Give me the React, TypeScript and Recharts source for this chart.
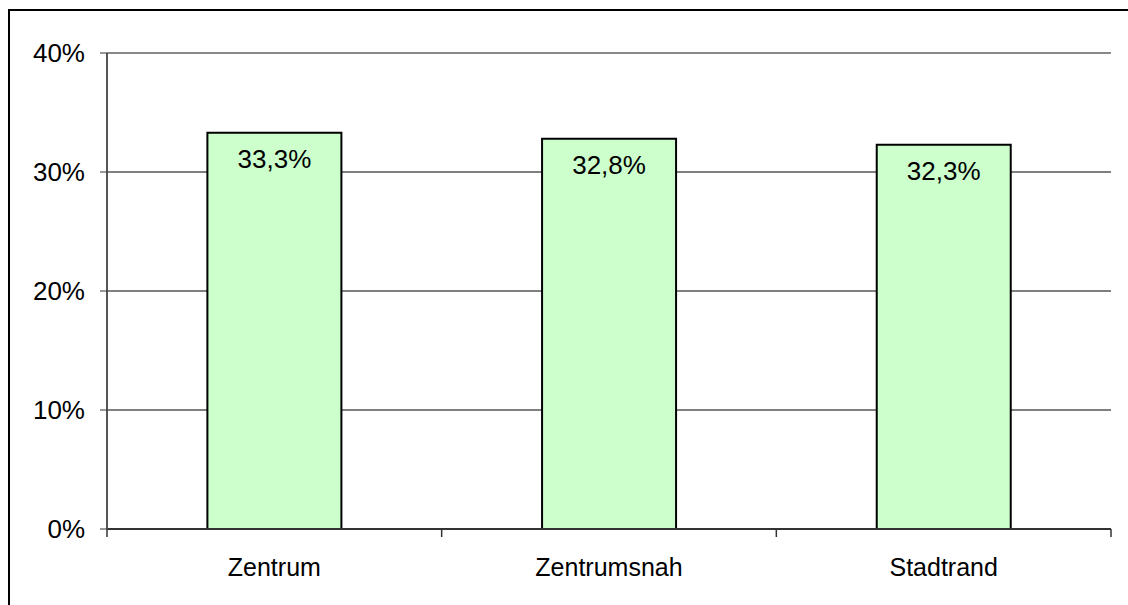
import React from 'react';
import { BarChart, Bar, XAxis, YAxis, CartesianGrid, ReferenceLine, LabelList } from 'recharts';

const categories = ['Zentrum', 'Zentrumsnah', 'Stadtrand'];
const shares = [33.3, 32.8, 32.3];
const yTicks = [0, 10, 20, 30, 40];

const data = categories.map((c, i) => ({ name: c, value: shares[i] }));

const W = 1128;
const H = 605;
const M = { top: 53, right: 17, bottom: 46, left: 47 };
const PLOT_W = W - M.left - 60 - M.right;
const FONT = 'Liberation Sans, Arial, sans-serif';

const fmtPct = (v: number) => `${v.toFixed(1).replace('.', ',')}%`;

const XTick = (props: any) => {
  const { x, y, payload, index } = props;
  const half = payload && typeof payload.offset === 'number' && payload.offset > 0 ? payload.offset : PLOT_W / categories.length / 2;
  const last = index === categories.length - 1;
  return (
    <g>
      <line x1={x - half} x2={x - half} y1={y} y2={y + 8} stroke="#333" strokeWidth={1.5} />
      {last && <line x1={x + half} x2={x + half} y1={y} y2={y + 8} stroke="#333" strokeWidth={1.5} />}
      <text x={x} y={y + 38} dy="0.355em" textAnchor="middle" fontFamily={FONT} fontSize={25} fill="#000">
        {payload.value}
      </text>
    </g>
  );
};

export default function App() {
  return (
    <div style={{ position: 'absolute', left: 0, top: 0, width: W, height: H, overflow: 'hidden', background: '#fff' }}>
      <div style={{ position: 'absolute', left: 8, top: 9, width: 1200, height: 700, border: '2px solid #000' }} />
      <div style={{ position: 'absolute', left: 0, top: 0 }}>
        <BarChart width={W} height={H} data={data} margin={M} barCategoryGap="30%">
          <CartesianGrid horizontal vertical={false} stroke="#000" strokeWidth={1} />
          <XAxis
            dataKey="name"
            tickLine={false}
            tickSize={0}
            tickMargin={0}
            height={30}
            axisLine={{ stroke: '#333', strokeWidth: 2 }}
            tick={<XTick />}
            interval={0}
          />
          <YAxis
            domain={[0, 40]}
            ticks={yTicks}
            width={60}
            tickSize={7}
            tickMargin={15}
            tickFormatter={(v: number) => `${v}%`}
            axisLine={{ stroke: '#555', strokeWidth: 2 }}
            tickLine={{ stroke: '#333' }}
            tick={{ fill: '#000', fontSize: 26, fontFamily: FONT }}
          />
          <YAxis
            yAxisId="r"
            orientation="right"
            width={0}
            domain={[0, 40]}
            tick={false}
            tickLine={false}
            axisLine={{ stroke: '#888', strokeWidth: 2 }}
          />
          <ReferenceLine y={40} stroke="#888" strokeWidth={2} />
          <Bar dataKey="value" fill="#CCFFCC" stroke="#000" strokeWidth={2} isAnimationActive={false}>
            <LabelList
              dataKey="value"
              position="insideTop"
              offset={17}
              formatter={(v: any) => fmtPct(Number(v))}
              style={{ fill: '#000', fontSize: 26, fontFamily: FONT }}
            />
          </Bar>
        </BarChart>
      </div>
    </div>
  );
}
